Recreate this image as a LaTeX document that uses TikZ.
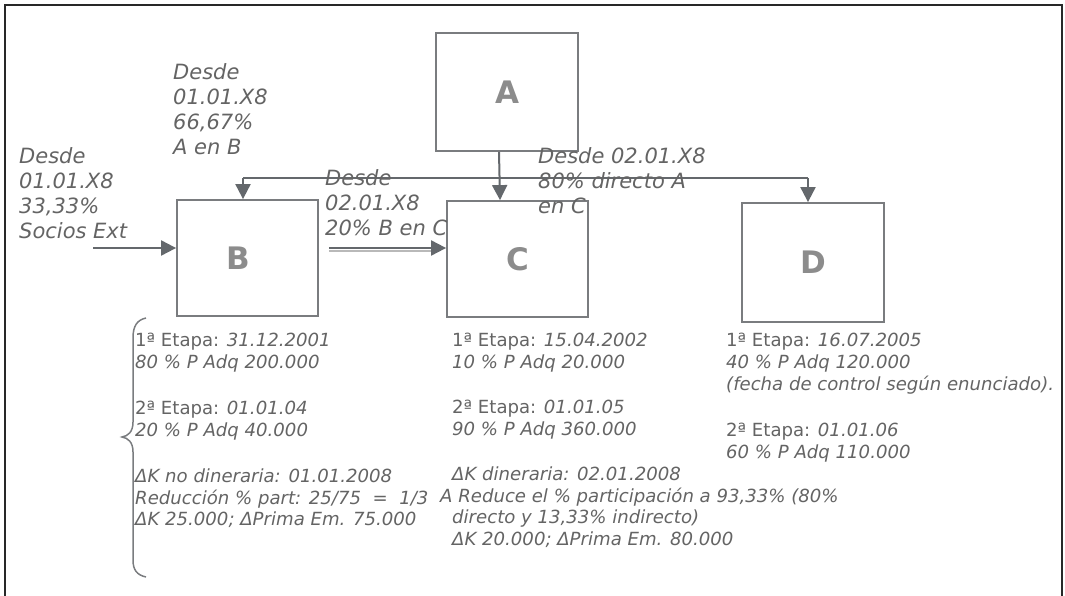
\documentclass[tikz,border=0pt]{standalone}
\usepackage{fontspec}
\setmainfont{DejaVu Sans}
\usetikzlibrary{arrows.meta}
\definecolor{boxgray}{RGB}{122,124,127}
\definecolor{linegray}{RGB}{100,104,108}
\definecolor{txtgray}{RGB}{100,100,100}
\definecolor{lettergray}{RGB}{140,140,140}
\definecolor{framegray}{RGB}{40,40,40}
\definecolor{shadowgray}{RGB}{185,185,185}
\begin{document}
\begin{tikzpicture}[x=1pt,y=-1pt,
  entity/.style={draw=boxgray,line width=1.8pt,inner sep=0pt,font=\fontsize{31}{31}\selectfont\bfseries,text=lettergray},
  link/.style={draw=linegray,line width=2pt},
  arr/.style={link,-{Triangle[width=15pt,length=15pt]}},
  upl/.style={anchor=north west,inner sep=0pt,align=left,text=txtgray,font=\fontsize{21}{25}\selectfont\itshape},
  lowl/.style={anchor=north west,inner sep=0pt,align=left,text=txtgray,font=\fontsize{18.1}{21.7}\selectfont}]
\useasboundingbox (0,0) rectangle (1065,596);
% frame
\draw[framegray,line width=1.5pt] (5,596) -- (5,5) -- (1062,5) -- (1062,596);

% boxes
\node[entity,minimum width=142pt,minimum height=118pt] (A) at (507,92) {A};
\node[entity,minimum width=141pt,minimum height=116pt] (B) at (247.5,258) {\hspace*{-18pt}B};
\node[entity,minimum width=141pt,minimum height=116pt] (C) at (517.5,259) {C};
\node[entity,minimum width=142pt,minimum height=119pt] (D) at (813,262.5) {D};

% connectors
\coordinate (jB) at (243,178);
\coordinate (jD) at (808,178);
\coordinate (ext) at (93,248);
\draw[link] (jB) -- (jD);
\draw[arr] (jB) -- (jB |- B.north);
\draw[arr] (jD) -- (jD |- D.north);
\draw[arr] ([xshift=-8pt]A.south) -- ([xshift=-17.5pt]C.north);
\draw[arr] (ext) -- ([yshift=10pt]B.west);
\draw[shadowgray,line width=1.5pt] ([xshift=10pt,yshift=7pt]B.east) -- ([xshift=-8pt,yshift=8pt]C.west);
\draw[arr] ([xshift=10pt,yshift=10pt]B.east) -- ([yshift=11pt]C.west);

% upper labels
\node[upl] (lAB) at (173,63) {Desde\\01.01.X8\\66,67\%\\A en B};
\node[upl] (lExt) at (19,147) {Desde\\01.01.X8\\33,33\%\\Socios Ext};
\node[upl] (lBC) at (325,169) {Desde\\02.01.X8\\20\% B en C};
\node[upl] (lAC) at (538,147) {Desde 02.01.X8\\80\% directo A\\en C};

% lower texts
\node[lowl] (tB) at (135,333) {1ª Etapa: \textit{31.12.2001}\\
\textit{80 \% P Adq 200.000}\\[24.5pt]
2ª Etapa: \textit{01.01.04}\\
\textit{20 \% P Adq 40.000}\\[24.5pt]
\textit{ΔK no dineraria: 01.01.2008}\\
\textit{Reducción \% part: 25/75~~=~~1/3}\\
\textit{ΔK 25.000; ΔPrima Em. 75.000}};
\node[lowl] (tC) at (440,333) {\hspace*{12pt}1ª Etapa: \textit{15.04.2002}\\
\hspace*{12pt}\textit{10 \% P Adq 20.000}\\[23.5pt]
\hspace*{12pt}2ª Etapa: \textit{01.01.05}\\
\hspace*{12pt}\textit{90 \% P Adq 360.000}\\[23.5pt]
\hspace*{12pt}\textit{ΔK dineraria: 02.01.2008}\\
\textit{A Reduce el \% participación a 93,33\% (80\%}\\
\hspace*{12pt}\textit{directo y 13,33\% indirecto)}\\
\hspace*{12pt}\textit{ΔK 20.000; ΔPrima Em. 80.000}};
\node[lowl] (tD) at (726,333) {1ª Etapa: \textit{16.07.2005}\\
\textit{40 \% P Adq 120.000}\\
\textit{(fecha de control según enunciado).}\\[25pt]
2ª Etapa: \textit{01.01.06}\\
\textit{60 \% P Adq 110.000}};

% brace
\draw[boxgray,line width=1.5pt] (146,318) .. controls (137,320) and (133,326) .. (133,338)
  -- (133,422) .. controls (133,432) and (128,436) .. (122,437)
  .. controls (128,438) and (133,442) .. (133,452)
  -- (133,560) .. controls (133,570) and (137,575) .. (146,577);
\end{tikzpicture}
\end{document}
